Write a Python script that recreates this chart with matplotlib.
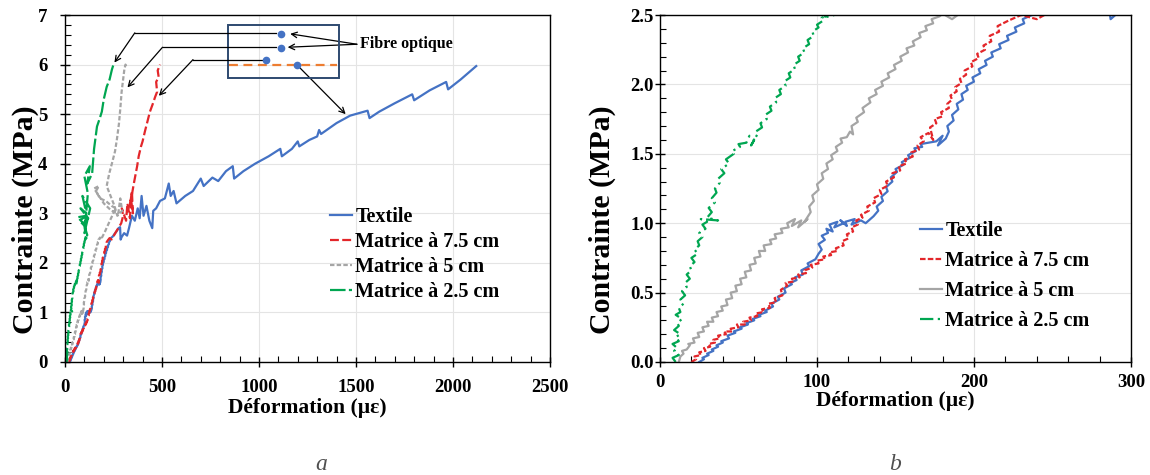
import matplotlib
matplotlib.use("Agg")
import matplotlib.pyplot as plt
from matplotlib.ticker import MultipleLocator, FormatStrFormatter
from matplotlib.patches import Rectangle

plt.rcParams["font.family"] = ["Liberation Serif", "DejaVu Serif"]
plt.rcParams["font.weight"] = "bold"

# ---- data (strain in micro-strain, stress in MPa) ----
textile_x = [25, 28, 27, 31, 30, 34, 33, 37, 36, 40,
             39, 44, 43, 48, 47, 52, 51, 56, 55, 60,
             59, 64, 63, 68, 67, 72, 71, 76, 75, 80,
             79, 84, 83, 87, 86, 91, 90, 95, 94, 99,
             101, 103, 101, 105, 103, 107, 106, 110, 108, 113,
             111, 117, 115, 119, 118, 124, 122, 128, 131, 134,
             136, 139, 138, 142, 141, 145, 144, 148, 147, 151,
             150, 155, 154, 159, 158, 163, 162, 167, 166, 171,
             176, 180, 177, 182, 184, 183, 187, 186, 190, 189,
             193, 192, 196, 195, 200, 199, 204, 203, 208, 207,
             212, 211, 217, 216, 222, 221, 227, 226, 232, 231,
             237, 246, 255, 265, 276, 284, 287, 292, 305, 320,
             330, 345, 360, 375, 385, 395, 405, 420, 435, 450,
             455, 470, 490, 515, 535, 545, 560, 575, 620, 660,
             700, 715, 760, 790, 830, 865, 872, 920, 980, 1050,
             1110, 1118, 1170, 1200, 1208, 1260, 1300, 1310, 1320, 1400,
             1470, 1560, 1570, 1620, 1700, 1790, 1800, 1880, 1965, 1975,
             2040, 2120]
textile_y = [0.00, 0.02, 0.03, 0.05, 0.06, 0.08, 0.09, 0.11, 0.12, 0.14,
             0.15, 0.17, 0.19, 0.21, 0.22, 0.24, 0.25, 0.27, 0.28, 0.30,
             0.31, 0.33, 0.34, 0.36, 0.37, 0.40, 0.42, 0.45, 0.47, 0.50,
             0.53, 0.56, 0.57, 0.59, 0.61, 0.63, 0.66, 0.69, 0.71, 0.74,
             0.78, 0.81, 0.85, 0.88, 0.91, 0.93, 0.96, 0.94, 0.99, 1.01,
             0.97, 1.00, 1.02, 0.98, 1.01, 1.03, 0.99, 1.02, 1.00, 1.03,
             1.05, 1.09, 1.12, 1.16, 1.19, 1.23, 1.26, 1.30, 1.33, 1.37,
             1.39, 1.42, 1.44, 1.47, 1.49, 1.52, 1.54, 1.55, 1.57, 1.58,
             1.59, 1.63, 1.56, 1.61, 1.66, 1.70, 1.74, 1.78, 1.82, 1.86,
             1.89, 1.93, 1.96, 1.99, 2.02, 2.05, 2.08, 2.11, 2.14, 2.17,
             2.20, 2.23, 2.26, 2.29, 2.32, 2.35, 2.38, 2.41, 2.44, 2.47,
             2.50, 2.53, 2.58, 2.63, 2.70, 2.72, 2.47, 2.52, 2.60, 2.55,
             2.70, 2.95, 2.85, 3.10, 2.90, 3.35, 2.95, 3.15, 2.85, 2.70,
             3.05, 3.10, 3.25, 3.30, 3.60, 3.35, 3.45, 3.20, 3.35, 3.45,
             3.70, 3.55, 3.72, 3.65, 3.85, 3.95, 3.70, 3.85, 4.00, 4.15,
             4.30, 4.15, 4.30, 4.45, 4.35, 4.48, 4.55, 4.68, 4.60, 4.82,
             4.97, 5.07, 4.92, 5.05, 5.22, 5.40, 5.28, 5.48, 5.65, 5.50,
             5.70, 5.97]

m75_x = [20, 23, 22, 26, 25, 29, 28, 32, 31, 35,
         34, 38, 37, 42, 41, 46, 45, 50, 49, 54,
         53, 58, 57, 62, 61, 66, 65, 70, 69, 74,
         73, 78, 77, 81, 80, 85, 84, 89, 88, 93,
         92, 97, 96, 101, 100, 105, 104, 109, 108, 113,
         112, 117, 116, 120, 119, 123, 122, 126, 125, 129,
         128, 133, 132, 137, 136, 141, 140, 145, 144, 149,
         148, 153, 152, 157, 156, 161, 160, 165, 164, 168,
         166, 171, 174, 172, 176, 175, 180, 179, 184, 183,
         186, 185, 189, 188, 192, 191, 195, 194, 199, 198,
         203, 202, 207, 206, 211, 210, 216, 215, 222, 230,
         240, 248, 262, 275, 290, 300, 293, 315, 322, 335,
         340, 350, 345, 335, 355, 365, 372, 380, 392, 400,
         412, 425, 438, 452, 465, 475, 470, 483, 478, 490]
m75_y = [0.00, 0.02, 0.04, 0.05, 0.07, 0.08, 0.10, 0.11, 0.13, 0.14,
         0.16, 0.17, 0.19, 0.20, 0.22, 0.22, 0.24, 0.25, 0.27, 0.27,
         0.29, 0.30, 0.32, 0.33, 0.35, 0.36, 0.38, 0.39, 0.42, 0.43,
         0.46, 0.48, 0.52, 0.55, 0.57, 0.58, 0.60, 0.61, 0.63, 0.64,
         0.66, 0.68, 0.70, 0.71, 0.73, 0.74, 0.76, 0.77, 0.79, 0.80,
         0.82, 0.84, 0.87, 0.89, 0.92, 0.94, 0.97, 0.99, 1.02, 1.04,
         1.06, 1.09, 1.12, 1.15, 1.18, 1.21, 1.24, 1.27, 1.30, 1.33,
         1.36, 1.38, 1.41, 1.43, 1.46, 1.48, 1.51, 1.53, 1.56, 1.59,
         1.62, 1.65, 1.60, 1.69, 1.72, 1.75, 1.77, 1.80, 1.83, 1.86,
         1.89, 1.92, 1.95, 1.98, 2.01, 2.04, 2.07, 2.10, 2.13, 2.16,
         2.19, 2.22, 2.25, 2.28, 2.31, 2.35, 2.38, 2.42, 2.46, 2.50,
         2.47, 2.52, 2.62, 2.70, 2.80, 2.95, 3.10, 2.85, 3.20, 2.90,
         3.30, 3.00, 3.45, 3.15, 3.60, 3.80, 3.95, 4.15, 4.35, 4.45,
         4.65, 4.85, 5.05, 5.20, 5.35, 5.45, 5.65, 5.75, 5.88, 6.00]

m5_x = [12, 13, 15, 14, 17, 19, 18, 22, 21, 25,
        24, 28, 27, 31, 30, 34, 33, 37, 36, 40,
        39, 43, 42, 46, 45, 49, 48, 52, 51, 55,
        54, 58, 57, 61, 60, 64, 63, 67, 66, 71,
        70, 74, 73, 78, 77, 82, 81, 86, 84, 90,
        88, 94, 92, 96, 95, 98, 97, 101, 100, 104,
        103, 107, 106, 110, 109, 113, 112, 116, 115, 119,
        121, 123, 122, 126, 125, 130, 129, 134, 133, 138,
        137, 142, 141, 146, 145, 150, 149, 154, 153, 158,
        157, 162, 161, 166, 165, 170, 169, 174, 173, 178,
        180, 186, 192, 205, 220, 235, 250, 262, 240, 210,
        180, 160, 175, 150, 200, 240, 275, 285, 295, 270,
        255, 215, 228, 245, 258, 268, 278, 285, 292, 300,
        306, 312, 318]
m5_y = [0.00, 0.04, 0.06, 0.08, 0.09, 0.12, 0.13, 0.14, 0.17, 0.18,
        0.21, 0.22, 0.25, 0.26, 0.29, 0.29, 0.32, 0.33, 0.36, 0.37,
        0.40, 0.41, 0.45, 0.46, 0.50, 0.51, 0.55, 0.56, 0.60, 0.61,
        0.65, 0.66, 0.70, 0.71, 0.75, 0.76, 0.80, 0.80, 0.84, 0.85,
        0.88, 0.89, 0.92, 0.93, 0.96, 0.97, 1.00, 1.03, 0.98, 1.02,
        0.97, 1.03, 1.01, 1.08, 1.12, 1.16, 1.20, 1.24, 1.28, 1.32,
        1.36, 1.39, 1.43, 1.46, 1.49, 1.52, 1.55, 1.58, 1.61, 1.62,
        1.66, 1.64, 1.70, 1.73, 1.76, 1.80, 1.83, 1.87, 1.90, 1.93,
        1.96, 1.99, 2.02, 2.05, 2.08, 2.11, 2.14, 2.17, 2.20, 2.23,
        2.26, 2.28, 2.31, 2.34, 2.37, 2.39, 2.42, 2.44, 2.47, 2.49,
        2.51, 2.47, 2.52, 2.62, 2.75, 2.88, 3.00, 3.10, 3.15, 3.25,
        3.30, 3.45, 3.55, 3.50, 3.20, 3.05, 3.00, 3.30, 3.05, 2.95,
        3.15, 3.55, 3.80, 4.05, 4.25, 4.50, 4.80, 5.10, 5.45, 5.70,
        5.90, 6.00, 5.95]

m25_x = [10, 8, 12, 9, 11, 8, 12, 10, 13, 9,
         12, 11, 14, 10, 13, 12, 15, 13, 16, 14,
         17, 16, 19, 17, 20, 19, 22, 20, 24, 22,
         25, 24, 27, 25, 29, 27, 30, 26, 37, 30,
         33, 31, 35, 33, 36, 35, 38, 37, 41, 39,
         44, 42, 47, 46, 51, 50, 55, 57, 60, 58,
         62, 61, 65, 64, 68, 67, 71, 70, 74, 73,
         77, 76, 80, 79, 83, 82, 86, 85, 89, 88,
         92, 91, 95, 94, 98, 97, 101, 100, 104, 103,
         107, 106, 111, 104, 115, 100, 75, 110, 65, 95,
         120, 80, 110, 90, 130, 100, 118, 100, 128, 115,
         140, 150, 165, 178, 190, 200, 215, 230, 242, 250]
m25_y = [0.00, 0.03, 0.05, 0.08, 0.10, 0.13, 0.15, 0.18, 0.20, 0.23,
         0.26, 0.28, 0.31, 0.34, 0.36, 0.39, 0.42, 0.45, 0.48, 0.51,
         0.54, 0.57, 0.60, 0.63, 0.66, 0.69, 0.72, 0.75, 0.78, 0.81,
         0.84, 0.87, 0.90, 0.93, 0.96, 0.99, 1.01, 1.03, 1.02, 1.04,
         1.08, 1.11, 1.15, 1.18, 1.22, 1.25, 1.29, 1.32, 1.36, 1.39,
         1.43, 1.46, 1.50, 1.52, 1.55, 1.57, 1.58, 1.63, 1.60, 1.56,
         1.64, 1.66, 1.69, 1.72, 1.75, 1.78, 1.81, 1.84, 1.87, 1.90,
         1.93, 1.96, 1.99, 2.02, 2.05, 2.08, 2.11, 2.14, 2.17, 2.20,
         2.23, 2.26, 2.29, 2.32, 2.35, 2.38, 2.41, 2.43, 2.46, 2.48,
         2.50, 2.52, 2.50, 2.48, 2.56, 2.75, 2.85, 2.95, 2.92, 2.80,
         2.90, 3.10, 3.00, 3.35, 3.10, 2.60, 3.40, 3.75, 3.95, 3.60,
         3.80, 4.30, 4.75, 4.90, 5.05, 5.30, 5.55, 5.70, 5.90, 6.00]

labels = ["Textile", "Matrice à 7.5 cm", "Matrice à 5 cm", "Matrice à 2.5 cm"]
colors = ["#4472C4", "#E3262A", "#A5A5A5", "#00A651"]

series = [(textile_x, textile_y), (m75_x, m75_y), (m5_x, m5_y), (m25_x, m25_y)]
styles_a = ["-", (0, (4, 1.5)), (0, (2, 1)), (0, (7, 1.5))]
styles_b = ["-", (0, (2.5, 1)), "-", (0, (6, 2, 1, 2))]

fig = plt.figure(figsize=(11.5, 4.75), dpi=100)
ax1 = fig.add_axes([0.0565, 0.2379, 0.4217, 0.7305])
ax2 = fig.add_axes([0.5739, 0.2379, 0.4096, 0.7305])


def style_axes(ax, xpad, ypad, xlabelpad, ylabel_x):
    ax.grid(which="major", color="#E4E4E4", lw=0.8)
    ax.set_axisbelow(True)
    ax.tick_params(which="major", direction="inout", length=7, width=1, labelsize=13.5)
    ax.tick_params(axis="x", which="major", pad=xpad)
    ax.tick_params(axis="y", which="major", pad=ypad)
    ax.tick_params(which="minor", direction="in", length=4, width=0.8)
    for s in ax.spines.values():
        s.set_linewidth(1.0)
    ax.set_xlabel("Déformation (µε)", fontsize=15.5, fontweight="bold", labelpad=xlabelpad)
    ax.set_ylabel("Contrainte (MPa)", fontsize=21.5, fontweight="bold")
    ax.yaxis.set_label_coords(ylabel_x, 0.41)


# panel a
for (xs, ys), c, ls, lab in zip(series, colors, styles_a, labels):
    ax1.plot(xs, ys, color=c, ls=ls, lw=1.6, label=lab)
ax1.set_xlim(0, 2500)
ax1.set_ylim(0, 7)
ax1.xaxis.set_major_locator(MultipleLocator(500))
ax1.xaxis.set_minor_locator(MultipleLocator(100))
ax1.yaxis.set_major_locator(MultipleLocator(1))
ax1.yaxis.set_minor_locator(MultipleLocator(0.2))
style_axes(ax1, 9, 9, 1, -0.054)
ax1.legend(loc="upper left", bbox_to_anchor=(0.53, 0.47), frameon=False, fontsize=14.5,
           handlelength=1.1, handletextpad=0.15, labelspacing=0.25, borderaxespad=0)

# fibre optique sketch
ax1.add_patch(Rectangle((840, 5.73), 572, 1.07, fill=False, ec="#2E4A70", lw=1.4, zorder=4))
ax1.plot([845, 1402], [5.99, 5.99], color="#ED7D31", ls=(0, (4, 2.5)), lw=1.6, zorder=4)
ax1.plot([1112, 1112, 1034, 1197], [6.62, 6.33, 6.09, 5.99], "o", color="#4472C4", ms=4.5, zorder=5)
arrow = dict(arrowstyle="->", color="black", lw=0.9, shrinkA=0, shrinkB=0)
ax1.plot([360, 1090], [6.64, 6.64], color="black", lw=0.9, zorder=4)
ax1.plot([503, 1090], [6.35, 6.35], color="black", lw=0.9, zorder=4)
ax1.plot([660, 1014], [6.10, 6.10], color="black", lw=0.9, zorder=4)
ax1.annotate("", xy=(255, 6.04), xytext=(360, 6.64), arrowprops=arrow)
ax1.annotate("", xy=(322, 5.54), xytext=(503, 6.35), arrowprops=arrow)
ax1.annotate("", xy=(484, 5.37), xytext=(660, 6.10), arrowprops=arrow)
ax1.annotate("", xy=(1447, 5.0), xytext=(1197, 5.99), arrowprops=arrow)
ax1.annotate("", xy=(1161, 6.62), xytext=(1505, 6.41), arrowprops=arrow)
ax1.annotate("", xy=(1148, 6.35), xytext=(1505, 6.41), arrowprops=arrow)
ax1.text(1520, 6.41, "Fibre optique", fontsize=11.5, fontweight="bold", va="center", ha="left")

# panel b
for (xs, ys), c, ls, lab in zip(series, colors, styles_b, labels):
    ax2.plot(xs, ys, color=c, ls=ls, lw=1.6, label=lab)
ax2.set_xlim(0, 300)
ax2.set_ylim(0, 2.5)
ax2.xaxis.set_major_locator(MultipleLocator(100))
ax2.xaxis.set_minor_locator(MultipleLocator(20))
ax2.yaxis.set_major_locator(MultipleLocator(0.5))
ax2.yaxis.set_minor_locator(MultipleLocator(0.1))
ax2.yaxis.set_major_formatter(FormatStrFormatter("%.1f"))
style_axes(ax2, 5, 1, 0, -0.093)
ax2.legend(loc="upper left", bbox_to_anchor=(0.535, 0.43), frameon=False, fontsize=14.5,
           handlelength=1.1, handletextpad=0.15, labelspacing=0.5, borderaxespad=0)

fig.text(321 / 1150, 1 - 465 / 475, "a", fontsize=17, style="italic", fontweight="normal",
         color="#505050", ha="center", va="center")
fig.text(895 / 1150, 1 - 465 / 475, "b", fontsize=17, style="italic", fontweight="normal",
         color="#505050", ha="center", va="center")

fig.savefig("out.png", dpi=100)
